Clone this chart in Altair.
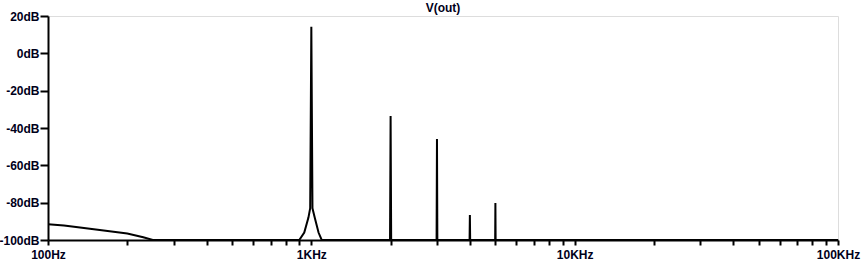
import altair as alt
import pandas as pd

# FFT spectrum of V(out): frequency (Hz) and magnitude (dB)
freq = [100, 115, 130, 160, 200, 230, 250,
        900, 940, 975, 990, 1000, 1010, 1030, 1065, 1095,
        1990, 2000, 2010,
        2990, 3000, 3010,
        3990, 4000, 4010,
        4990, 5000, 5010,
        100000]
mag = [-91.5, -92.2, -93.2, -94.8, -96.5, -98.5, -100,
       -100, -96, -88, -83, 14.3, -83, -88, -96, -100,
       -100, -33.6, -100,
       -100, -45.9, -100,
       -100, -86.6, -100,
       -100, -80.2, -100,
       -100]

y_ticks = [20, 0, -20, -40, -60, -80, -100]
x_ticks = [m * d for d in [100, 1000, 10000] for m in range(1, 10)] + [100000]

df = pd.DataFrame({"freq": freq, "mag": mag})

label_expr = ("datum.value == 100 ? '100Hz' : datum.value == 1000 ? '1KHz' : "
              "datum.value == 10000 ? '10KHz' : datum.value == 100000 ? '100KHz' : ''")

FONT = "Liberation Sans"

chart = alt.Chart(df).mark_line(color="black", strokeWidth=2, clip=True).encode(
    x=alt.X("freq:Q",
            scale=alt.Scale(type="log", domain=[100, 100000], nice=False),
            axis=alt.Axis(values=x_ticks, labelExpr=label_expr, title=None,
                          grid=False, tickSize=5, tickWidth=2, tickColor="black",
                          domainColor="black", domainWidth=2,
                          labelFont=FONT, labelFontSize=12, labelFontWeight="bold",
                          labelColor="#00001a", labelPadding=4, labelFlush=False,
                          labelOverlap=False)),
    y=alt.Y("mag:Q",
            scale=alt.Scale(domain=[-100, 20], nice=False, zero=False),
            axis=alt.Axis(values=y_ticks, labelExpr="datum.value + 'dB'", title=None,
                          grid=False, tickSize=8, tickWidth=2, tickColor="black",
                          domainColor="black", domainWidth=2,
                          labelFont=FONT, labelFontSize=12, labelFontWeight="bold",
                          labelColor="#00001a", labelPadding=1, labelFlush=False,
                          labelOverlap=False)),
).properties(
    width=790,
    height=224,
    title=alt.TitleParams("V(out)", font=FONT, fontSize=12, fontWeight="bold",
                          color="#00001a", offset=4, dy=9, anchor="middle", frame="group"),
    autosize=alt.AutoSizeParams(type="none"),
    padding={"left": 48, "top": 16, "right": 30, "bottom": 27},
).configure_view(
    stroke="black", strokeWidth=2
).configure(background="white")

chart.save("out.html", embed_options={"renderer": "svg", "actions": False})
